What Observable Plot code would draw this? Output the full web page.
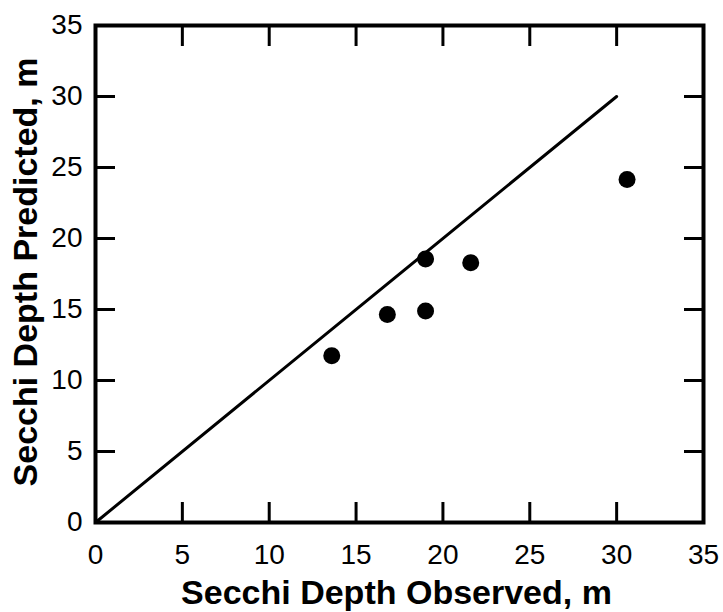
<!DOCTYPE html>
<html>
<head>
<meta charset="utf-8">
<script src="https://cdn.jsdelivr.net/npm/d3@7"></script>
<script src="https://cdn.jsdelivr.net/npm/@observablehq/plot@0.6"></script>
<style>
  html, body { margin: 0; padding: 0; background: #fff; }
  #chart svg { display: block; }
</style>
</head>
<body>
<div id="chart"></div>
<script>
const observed = [13.6, 16.8, 19.0, 19.0, 21.6, 30.6];
const predicted = [11.75, 14.65, 14.9, 18.55, 18.3, 24.15];
const lineX = [0, 30];
const lineY = [0, 30];
const ticks = [0, 5, 10, 15, 20, 25, 30, 35];
const xTitle = "Secchi Depth Observed, m";
const yTitle = "Secchi Depth Predicted, m";

const points = observed.map((x, i) => ({x, y: predicted[i]}));
const line = lineX.map((x, i) => ({x, y: lineY[i]}));
const font = "'Liberation Sans', Arial, Helvetica, sans-serif";

const chart = Plot.plot({
  width: 723,
  height: 612,
  marginLeft: 95,
  marginRight: 20,
  marginTop: 25,
  marginBottom: 90,
  style: {fontFamily: font, background: "#fff", color: "#000"},
  x: {domain: [0, 35], ticks, label: null},
  y: {domain: [0, 35], ticks, label: null},
  marks: [
    Plot.axisX(ticks, {anchor: "bottom", tickSize: -20, tickPadding: 42, strokeWidth: 3, fontSize: 28, label: null}),
    Plot.axisX(ticks, {anchor: "top", tickSize: -20, tickFormat: () => "", strokeWidth: 3, label: null}),
    Plot.axisY(ticks, {anchor: "left", tickSize: -20, tickPadding: 33, strokeWidth: 3, fontSize: 28, label: null}),
    Plot.axisY(ticks, {anchor: "right", tickSize: -20, tickFormat: () => "", strokeWidth: 3, label: null}),
    Plot.frame({stroke: "#000", strokeWidth: 4}),
    Plot.line(line, {x: "x", y: "y", stroke: "#000", strokeWidth: 3}),
    Plot.dot(points, {x: "x", y: "y", r: 8.5, fill: "#000", stroke: "none"}),
    Plot.text([xTitle], {frameAnchor: "bottom", dy: 71, dx: -3, fontSize: 34, fontWeight: "bold", lineAnchor: "middle", fill: "#000"}),
    Plot.text([yTitle], {frameAnchor: "left", textAnchor: "middle", dx: -69, dy: -2, rotate: -90, fontSize: 34, fontWeight: "bold", lineAnchor: "middle", fill: "#000"})
  ]
});
document.getElementById("chart").appendChild(chart);
</script>
</body>
</html>
